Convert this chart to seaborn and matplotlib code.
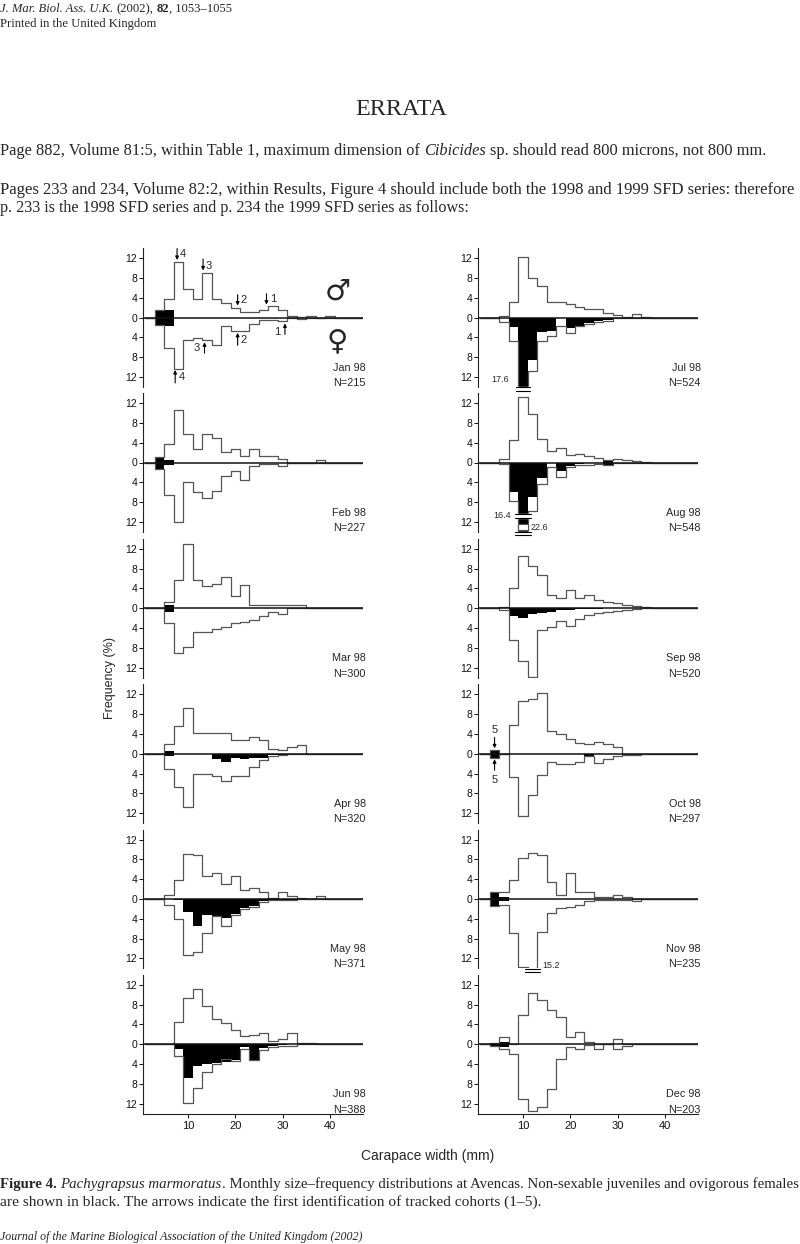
import numpy as np
import pandas as pd
import matplotlib
matplotlib.use('Agg')
import matplotlib.pyplot as plt
import seaborn as sns

# page + panel styling
sns.set_style('ticks')
plt.rcParams['font.family'] = ['Liberation Sans', 'DejaVu Sans']
W, H = 800, 1244
LINE = '#555555'
SERIF = 'Liberation Serif'

# 2 mm carapace-width classes, 1-47 mm
EDGES = list(range(1, 49, 2))
CENTERS = [e + 1 for e in EDGES[:-1]]

# ---- size-frequency data (%), males up / females down, black = juveniles & ovigerous
jan_male = [0, 1.5, 3.8, 11.2, 5.7, 3.8, 9.0, 3.8, 3.0, 2.0, 1.1, 1.1, 1.5, 2.4, 1.5, 0.4, 0.2, 0.4, 0, 0.4, 0, 0, 0]
jan_female = [0, 1.6, 6.1, 10.3, 4.6, 4.2, 4.6, 5.6, 1.8, 2.7, 2.7, 1.4, 0.5, 0.5, 0.8, 0, 0.3, 0, 0, 0, 0, 0, 0]
jan_black_up = [0, 1.5, 1.5, 0, 0, 0, 0, 0, 0, 0, 0, 0, 0, 0, 0, 0, 0, 0, 0, 0, 0, 0, 0]
jan_black_down = [0, 1.7, 1.7, 0, 0, 0, 0, 0, 0, 0, 0, 0, 0, 0, 0, 0, 0, 0, 0, 0, 0, 0, 0]

feb_male = [0, 1.2, 3.7, 10.6, 5.7, 2.7, 5.7, 4.9, 2.1, 2.7, 1.35, 2.7, 1.35, 1.35, 0.7, 0, 0, 0, 0.5, 0, 0, 0, 0]
feb_female = [0, 1.3, 6.5, 12.0, 3.9, 5.9, 7.1, 5.7, 2.8, 1.7, 3.6, 0.8, 0.35, 0.35, 0.8, 0, 0, 0, 0, 0, 0, 0, 0]
feb_black_up = [0, 1.2, 0.5, 0, 0, 0, 0, 0, 0, 0, 0, 0, 0, 0, 0, 0, 0, 0, 0, 0, 0, 0, 0]
feb_black_down = [0, 1.3, 0.5, 0, 0, 0, 0, 0, 0, 0, 0, 0, 0, 0, 0, 0, 0, 0, 0, 0, 0, 0, 0]

mar_male = [0, 0, 1.35, 5.7, 12.9, 5.7, 4.4, 5.0, 6.4, 2.5, 4.8, 0.7, 0.7, 0.7, 0.7, 0.7, 0.7, 0, 0, 0, 0, 0, 0]
mar_female = [0, 0, 3.0, 9.1, 7.9, 4.7, 4.7, 4.25, 3.7, 3.0, 2.7, 2.4, 1.55, 0.7, 1.1, 0, 0, 0, 0, 0, 0, 0, 0]
mar_black_up = [0, 0.15, 0.7, 0, 0, 0, 0, 0, 0, 0, 0, 0, 0, 0, 0, 0, 0, 0, 0, 0, 0, 0, 0]
mar_black_down = [0, 0.15, 0.8, 0, 0, 0, 0, 0, 0, 0, 0, 0, 0, 0, 0, 0, 0, 0, 0, 0, 0, 0, 0]

apr_male = [0, 0, 1.9, 5.7, 9.2, 4.2, 4.2, 4.2, 4.2, 2.8, 2.8, 3.4, 2.8, 1.0, 0.7, 1.35, 1.7, 0, 0, 0, 0, 0, 0]
apr_female = [0, 0, 3.0, 6.7, 10.75, 4.0, 4.0, 4.5, 5.4, 4.5, 4.5, 2.7, 1.35, 0.5, 0.3, 0, 0, 0, 0, 0, 0, 0, 0]
apr_black_up = [0, 0, 0.5, 0, 0, 0, 0, 0, 0, 0, 0, 0, 0, 0, 0, 0, 0, 0, 0, 0, 0, 0, 0]
apr_black_down = [0, 0, 0.5, 0, 0, 0, 0, 1.0, 1.6, 0.9, 1.0, 0.9, 0.8, 0.2, 0.2, 0.2, 0, 0, 0, 0, 0, 0, 0]

may_male = [0, 0, 0.75, 3.9, 9.0, 8.8, 4.6, 5.3, 3.1, 4.65, 1.9, 2.2, 1.4, 0.3, 1.4, 0.55, 0.15, 0, 0.55, 0, 0, 0, 0]
may_female = [0, 0, 1.3, 4.1, 11.2, 10.7, 6.9, 3.5, 5.5, 3.2, 2.0, 1.6, 0.6, 0.3, 0.3, 0.3, 0, 0, 0, 0, 0, 0, 0]
may_black_up = [0, 0, 0, 0, 0, 0, 0, 0, 0, 0, 0, 0, 0, 0, 0, 0, 0, 0, 0, 0, 0, 0, 0]
may_black_down = [0, 0, 0.1, 0.3, 2.6, 5.5, 3.3, 3.5, 3.8, 3.0, 1.9, 1.5, 0.5, 0.3, 0.3, 0.3, 0, 0, 0, 0, 0, 0, 0]

jun_male = [0, 0, 0, 4.4, 9.3, 11.1, 7.8, 5.1, 4.2, 2.9, 1.7, 1.9, 2.2, 0.7, 1.0, 2.2, 0.3, 0.3, 0, 0, 0, 0, 0]
jun_female = [0, 0, 0, 2.3, 11.8, 8.8, 5.5, 3.9, 3.0, 3.3, 1.0, 3.1, 1.1, 0.5, 0.3, 0.3, 0, 0, 0, 0, 0, 0, 0]
jun_black_up = [0, 0, 0, 0, 0, 0, 0, 0, 0, 0, 0, 0, 0, 0, 0, 0, 0, 0, 0, 0, 0, 0, 0]
jun_black_down = [0, 0, 0, 1.0, 6.8, 4.3, 3.9, 3.8, 3.5, 3.1, 0.5, 3.1, 0.8, 0.3, 0.2, 0, 0, 0, 0, 0, 0, 0, 0]

jul_male = [0, 0, 0.4, 3.2, 12.3, 8.0, 6.3, 3.2, 3.2, 2.7, 2.2, 1.8, 1.8, 1.0, 0.5, 0.15, 0.7, 0.15, 0, 0, 0, 0, 0]
jul_female = [0, 0, 0.9, 4.7, 17.6, 10.7, 4.7, 3.7, 1.7, 3.2, 1.7, 1.4, 0.9, 0.7, 0.1, 0, 0, 0, 0, 0, 0, 0, 0]
jul_black_up = [0, 0, 0, 0, 0, 0, 0, 0, 0, 0, 0, 0, 0, 0, 0, 0, 0, 0, 0, 0, 0, 0, 0]
jul_black_down = [0, 0, 0, 1.9, 17.6, 8.5, 3.0, 2.7, 0.1, 2.2, 1.7, 1.2, 0.7, 0.5, 0, 0, 0, 0, 0, 0, 0, 0, 0]

aug_male = [0, 0, 0.7, 4.6, 13.2, 9.8, 4.8, 2.4, 3.0, 1.6, 1.8, 1.4, 1.0, 0.5, 0.7, 0.5, 0.35, 0.15, 0, 0, 0, 0, 0]
aug_female = [0, 0, 0.3, 7.8, 22.6, 9.7, 4.4, 1.0, 3.0, 1.0, 0.5, 0.5, 0.35, 0.5, 0.2, 0, 0, 0, 0, 0, 0, 0, 0]
aug_black_up = [0, 0, 0, 0, 0, 0, 0, 0, 0, 0, 0, 0, 0, 0.3, 0, 0, 0, 0, 0, 0, 0, 0, 0]
aug_black_down = [0, 0, 0, 6.0, 16.4, 7.0, 3.2, 0.2, 1.7, 0.7, 0.35, 0.2, 0, 0.5, 0, 0, 0, 0, 0, 0, 0, 0, 0]

sep_male = [0, 0, 0.3, 4.1, 10.5, 8.5, 6.8, 2.7, 2.0, 3.7, 2.0, 2.6, 1.7, 1.35, 1.0, 0.7, 0.5, 0.2, 0, 0, 0, 0, 0]
sep_female = [0, 0, 0.3, 6.4, 10.7, 13.8, 4.3, 3.8, 2.6, 3.5, 2.2, 1.4, 1.0, 0.75, 0.55, 0.35, 0.2, 0, 0, 0, 0, 0, 0]
sep_black_up = [0, 0, 0, 0, 0, 0, 0, 0, 0, 0, 0, 0, 0, 0, 0, 0, 0, 0, 0, 0, 0, 0, 0]
sep_black_down = [0, 0, 0, 1.55, 1.9, 1.2, 0.9, 0.75, 0.35, 0.35, 0.2, 0.2, 0.2, 0, 0, 0, 0, 0, 0, 0, 0, 0, 0]

oct_male = [0, 0.8, 0, 5.9, 10.6, 11.1, 12.3, 4.6, 3.9, 3.0, 2.2, 1.9, 2.4, 1.9, 1.4, 0, 0, 0, 0, 0, 0, 0, 0]
oct_female = [0, 0.9, 0, 4.7, 12.6, 8.4, 4.2, 1.7, 2.1, 2.1, 1.7, 0.5, 1.8, 1.0, 0.5, 0.3, 0.2, 0, 0, 0, 0, 0, 0]
oct_black_up = [0, 0.8, 0, 0, 0, 0, 0, 0, 0, 0, 0, 0, 0, 0, 0, 0, 0, 0, 0, 0, 0, 0, 0]
oct_black_down = [0, 0.9, 0, 0, 0, 0, 0, 0, 0, 0, 0, 0.4, 0, 0, 0, 0.2, 0.2, 0, 0, 0, 0, 0, 0]

nov_male = [0, 1.35, 1.35, 3.9, 8.3, 9.2, 8.8, 3.45, 0.9, 5.3, 1.35, 1.35, 0.4, 0.4, 0.9, 0.4, 0, 0, 0, 0, 0, 0, 0]
nov_female = [0, 1.35, 1.15, 6.9, 13.7, 15.2, 6.6, 2.85, 1.8, 1.6, 1.15, 0.5, 0.3, 0.3, 0.15, 0.15, 0.5, 0, 0, 0, 0, 0, 0]
nov_black_up = [0, 1.35, 0.45, 0, 0, 0, 0, 0, 0, 0, 0, 0, 0, 0, 0, 0, 0, 0, 0, 0, 0, 0, 0]
nov_black_down = [0, 1.35, 0.45, 0, 0, 0, 0, 0, 0, 0, 0, 0, 0, 0, 0, 0, 0, 0, 0, 0, 0, 0, 0]

dec_male = [0, 0.3, 1.4, 0, 5.9, 10.4, 8.9, 6.9, 5.6, 1.4, 2.4, 0.5, 0, 0, 1.0, 0.1, 0, 0, 0, 0, 0, 0, 0]
dec_female = [0, 0.3, 0.95, 2.0, 11.1, 13.5, 12.6, 9.1, 3.0, 0.5, 1.0, 0.1, 1.0, 0, 1.0, 0.4, 0, 0, 0, 0, 0, 0, 0]
dec_black_up = [0, 0.3, 0.5, 0, 0, 0, 0, 0, 0, 0, 0, 0, 0, 0, 0, 0, 0, 0, 0, 0, 0, 0, 0]
dec_black_down = [0, 0.3, 0.5, 0, 0, 0, 0, 0, 0, 0, 0, 0, 0, 0, 0, 0, 0, 0, 0, 0, 0, 0, 0]

MONTHS_LEFT = ['Jan 98', 'Feb 98', 'Mar 98', 'Apr 98', 'May 98', 'Jun 98']
MONTHS_RIGHT = ['Jul 98', 'Aug 98', 'Sep 98', 'Oct 98', 'Nov 98', 'Dec 98']
N_LEFT = [215, 227, 300, 320, 371, 388]
N_RIGHT = [524, 548, 520, 297, 235, 203]

LEFT_DATA = [
    (jan_male, jan_female, jan_black_up, jan_black_down),
    (feb_male, feb_female, feb_black_up, feb_black_down),
    (mar_male, mar_female, mar_black_up, mar_black_down),
    (apr_male, apr_female, apr_black_up, apr_black_down),
    (may_male, may_female, may_black_up, may_black_down),
    (jun_male, jun_female, jun_black_up, jun_black_down),
]
RIGHT_DATA = [
    (jul_male, jul_female, jul_black_up, jul_black_down),
    (aug_male, aug_female, aug_black_up, aug_black_down),
    (sep_male, sep_female, sep_black_up, sep_black_down),
    (oct_male, oct_female, oct_black_up, oct_black_down),
    (nov_male, nov_female, nov_black_up, nov_black_down),
    (dec_male, dec_female, dec_black_up, dec_black_down),
]

# panel geometry in pixels
COL_X = [143, 478]
PANEL_W = 220
ROW_ZERO = [317.5, 462.5, 608.3, 753.8, 899, 1044.3]
HALF_H = 69.4
YMAX = 14


def draw_panel(ax, male, female, black_up, black_down, month, n, bottom_row):
    df = pd.DataFrame({'cw': CENTERS, 'male': male, 'female': -np.array(female),
                       'bup': black_up, 'bdown': -np.array(black_down)})
    for col in ['bup', 'bdown']:
        sns.histplot(data=df, x='cw', weights=col, bins=EDGES, element='bars',
                     color='black', alpha=1, linewidth=0, ax=ax)
    for col in ['male', 'female']:
        sns.histplot(data=df, x='cw', weights=col, bins=EDGES, element='step',
                     fill=False, color=LINE, linewidth=0.9, ax=ax)
    ax.axhline(0, color='#111111', lw=1.1, zorder=4)

    ax.set_xlim(0.5, 47)
    ax.set_ylim(-YMAX, YMAX)
    ax.set_xlabel('')
    ax.set_ylabel('')
    ax.set_yticks([-12, -8, -4, 0, 4, 8, 12])
    ax.set_yticklabels(['12', '8', '4', '0', '4', '8', '12'])
    ax.tick_params(axis='y', length=3, width=0.7, pad=1, labelsize=7.5, colors='#111111')
    sns.despine(ax=ax, bottom=not bottom_row)
    ax.spines['left'].set_linewidth(0.8)
    ax.spines['left'].set_color('#222222')
    if bottom_row:
        ax.set_xticks([10, 20, 30, 40])
        ax.tick_params(axis='x', length=3, width=0.7, pad=2, labelsize=8, colors='#111111')
        ax.spines['bottom'].set_linewidth(0.8)
        ax.spines['bottom'].set_color('#222222')
    else:
        ax.set_xticks([])
    ax.text(47.6, -10.1, month, ha='right', va='center', fontsize=7.8)
    ax.text(47.6, -13.2, f'N={n}', ha='right', va='center', fontsize=7.8)


def cohort_arrow(ax, x, y_tail, y_tip, label, lx, ly, ha='left'):
    ax.annotate('', xy=(x, y_tip), xytext=(x, y_tail),
                arrowprops=dict(arrowstyle='-|>', color='black', lw=0.8,
                                mutation_scale=5, shrinkA=0, shrinkB=0))
    ax.text(lx, ly, label, ha=ha, va='center', fontsize=8)


def break_mark(ax, x0, x1, y, gap=0.35):
    ax.fill_between([x0, x1], y - gap, y + gap, color='white', clip_on=False, zorder=6)
    ax.plot([x0, x1], [y + gap, y + gap], color='black', lw=0.8, clip_on=False, zorder=7)
    ax.plot([x0, x1], [y - gap, y - gap], color='black', lw=0.8, clip_on=False, zorder=7)


fig = plt.figure(figsize=(W / 100, H / 100), dpi=100)

axes = {}
for c, (months, ns, data) in enumerate([(MONTHS_LEFT, N_LEFT, LEFT_DATA),
                                       (MONTHS_RIGHT, N_RIGHT, RIGHT_DATA)]):
    for r in range(6):
        zero = ROW_ZERO[r]
        ax = fig.add_axes([COL_X[c] / W, 1 - (zero + HALF_H) / H,
                           PANEL_W / W, 2 * HALF_H / H])
        ax.patch.set_alpha(0)
        m, f, bu, bd = data[r]
        draw_panel(ax, m, f, bu, bd, months[r], ns[r], r == 5)
        axes[months[r]] = ax

# cohort arrows, Jan 98
ax = axes['Jan 98']
cohort_arrow(ax, 7.7, 13.9, 11.6, '4', 8.3, 12.8)
cohort_arrow(ax, 13.2, 11.8, 9.5, '3', 13.8, 10.4)
cohort_arrow(ax, 20.5, 4.6, 2.4, '2', 21.2, 3.5)
cohort_arrow(ax, 26.6, 4.8, 2.6, '1', 27.3, 3.8)
cohort_arrow(ax, 7.3, -13.2, -10.6, '4', 8.0, -12.0)
cohort_arrow(ax, 13.5, -7.2, -5.0, '3', 12.6, -6.2, ha='right')
cohort_arrow(ax, 20.5, -5.6, -3.1, '2', 21.2, -4.5)
cohort_arrow(ax, 30.5, -3.4, -1.2, '1', 29.6, -3.0, ha='right')
ax.text(41.7, 5.2, '\u2642', ha='center', va='center', fontsize=21, family='DejaVu Sans')
ax.text(41.5, -4.9, '\u2640', ha='center', va='center', fontsize=21, family='DejaVu Sans')

# cohort 5, Oct 98
ax = axes['Oct 98']
cohort_arrow(ax, 4.0, 3.3, 1.1, '5', 4.0, 4.8, ha='center')
cohort_arrow(ax, 4.0, -3.3, -1.1, '5', 4.0, -5.3, ha='center')

# off-scale classes
ax = axes['Jul 98']
break_mark(ax, 8.6, 11.4, -14.4)
ax.text(7.0, -12.6, '17.6', ha='right', va='center', fontsize=6.5)
ax = axes['Aug 98']
break_mark(ax, 8.4, 11.6, -10.8)
ax.bar([10], [-1.2], bottom=-12.4, width=2, color='white', edgecolor=LINE, lw=0.8, zorder=5)
break_mark(ax, 8.4, 11.6, -14.3)
ax.text(7.4, -10.6, '16.4', ha='right', va='center', fontsize=6.5)
ax.text(11.7, -13.1, '22.6', ha='left', va='center', fontsize=6.5)
ax = axes['Nov 98']
break_mark(ax, 10.4, 13.6, -14.4)
ax.text(14.0, -13.5, '15.2', ha='left', va='center', fontsize=6.5)

fig.text(110 / W, 1 - 678 / H, 'Frequency (%)', rotation=90, ha='center', va='center', fontsize=9)
fig.text(428 / W, 1 - 1156 / H, 'Carapace width (mm)', ha='center', va='center', fontsize=10)

# ---- page text (serif)
renderer = fig.canvas.get_renderer()


def measure(s, size, style='normal', weight='normal'):
    t = fig.text(0, 0, s, fontsize=size, family=SERIF, style=style, weight=weight)
    w = t.get_window_extent(renderer).width
    t.remove()
    return w


def text_runs(x_px, y_px, runs, size):
    space = measure('x x', size) - measure('xx', size)
    x = x_px
    for s, style, weight, gap in runs:
        if gap:
            x += space
        t = fig.text(x / W, 1 - y_px / H, s, fontsize=size, family=SERIF,
                     style=style, weight=weight, va='baseline')
        x += t.get_window_extent(renderer).width


def fit_size(runs, target):
    base = 10
    space = measure('x x', base) - measure('xx', base)
    w = sum(measure(s, base, st, wt) + (space if g else 0) for s, st, wt, g in runs)
    return base * target / w


def fitted_line(x_px, y_px, runs, target):
    text_runs(x_px, y_px, runs, fit_size(runs, target))


header1 = [('J. Mar. Biol. Ass. U.K.', 'italic', 'normal', False), ('(2002),', 'normal', 'normal', True),
           ('82', 'normal', 'bold', True), (', 1053\u20131055', 'normal', 'normal', False)]
header2 = [('Printed in the United Kingdom', 'normal', 'normal', False)]
hs = fit_size(header1, 232)
text_runs(0, 12, header1, hs)
text_runs(0, 27, header2, hs)

fitted_line(355, 115, [('ERRATA', 'normal', 'normal', False)], 92)

para1 = [('Page 882, Volume 81:5, within Table 1, maximum dimension of', 'normal', 'normal', False),
         ('Cibicides', 'italic', 'normal', True),
         ('sp. should read 800 microns, not 800 mm.', 'normal', 'normal', True)]
fitted_line(0, 155, para1, 766)
fitted_line(0, 194, [('Pages 233 and 234, Volume 82:2, within Results, Figure 4 should include both the 1998 '
                      'and 1999 SFD series: therefore', 'normal', 'normal', False)], 798)
fitted_line(0, 212, [('p. 233 is the 1998 SFD series and p. 234 the 1999 SFD series as follows:',
                      'normal', 'normal', False)], 469)

cap1 = [('Figure 4.', 'normal', 'bold', False), ('Pachygrapsus marmoratus', 'italic', 'normal', True),
        ('. Monthly size\u2013frequency distributions at Avencas. Non-sexable juveniles and ovigorous females',
         'normal', 'normal', False)]
fitted_line(0, 1188, cap1, 797)
fitted_line(0, 1206, [('are shown in black. The arrows indicate the first identification of tracked cohorts (1\u20135).',
                       'normal', 'normal', False)], 540)
fitted_line(0, 1240, [('Journal of the Marine Biological Association of the United Kingdom (2002)',
                       'italic', 'normal', False)], 362)

fig.savefig('out.png', dpi=100)
